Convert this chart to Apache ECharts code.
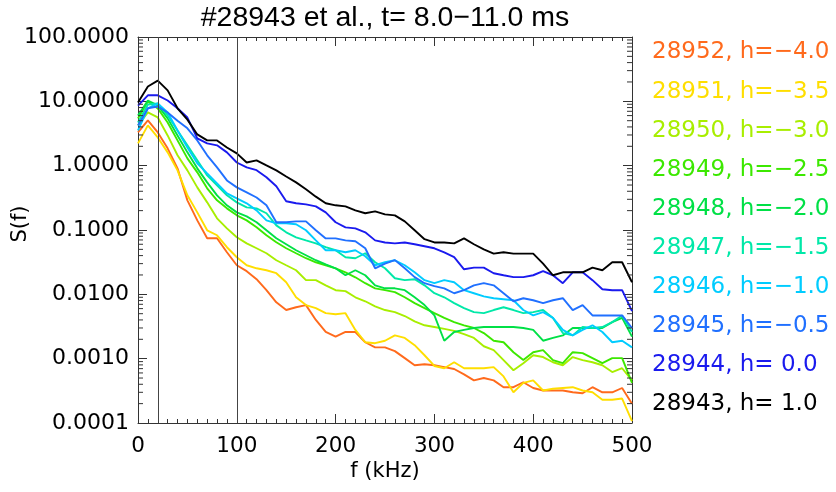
<!DOCTYPE html>
<html><head><meta charset="utf-8">
<script src="https://cdn.jsdelivr.net/npm/echarts@6/dist/echarts.min.js"></script>
<style>html,body{margin:0;padding:0;background:#fff}#c{width:836px;height:492px}</style>
</head><body><div id="c"></div>
<script>
const freqs = [0,10,20,30,40,50,60,70,80,90,100,110,120,130,140,150,160,170,180,190,200,210,220,230,240,250,260,270,280,290,300,310,320,330,340,350,360,370,380,390,400,410,420,430,440,450,460,470,480,490,500];

const s28952 = [3.29,5.05,3.29,1.86,0.908,0.289,0.141,0.0743,0.0743,0.0451,0.0283,0.0229,0.0172,0.0116,0.0075,0.0057,0.0063,0.0068,0.0040,0.0026,0.0022,0.0026,0.0026,0.0018,0.0015,0.0015,0.00131,0.00102,0.00079,0.00082,0.00079,0.00074,0.00069,0.00057,0.00046,0.00050,0.00046,0.00036,0.00036,0.00043,0.00035,0.00032,0.00032,0.00032,0.00030,0.00029,0.00036,0.00030,0.00030,0.00035,0.00020];
const s28951 = [2.22,4.23,2.75,1.61,0.845,0.346,0.188,0.099,0.0828,0.054,0.0377,0.0283,0.0254,0.0237,0.0213,0.0154,0.0090,0.0068,0.0061,0.0051,0.0049,0.0051,0.0028,0.0018,0.00174,0.0019,0.0023,0.0021,0.00162,0.00113,0.00077,0.00071,0.00088,0.00071,0.00071,0.00071,0.00074,0.00053,0.00030,0.00042,0.00046,0.00032,0.00034,0.00035,0.00036,0.00032,0.00030,0.00023,0.00023,0.00024,0.000107];
const s28950 = [4.23,6.73,5.62,2.95,1.45,0.845,0.460,0.269,0.152,0.106,0.077,0.062,0.052,0.0435,0.0339,0.0283,0.0237,0.0166,0.0166,0.0138,0.0116,0.0112,0.0090,0.0078,0.0065,0.0057,0.0053,0.0046,0.0038,0.0033,0.0031,0.0029,0.0027,0.0024,0.0021,0.00156,0.00136,0.00095,0.00066,0.00085,0.00113,0.00106,0.00088,0.00079,0.00106,0.00095,0.00088,0.00079,0.00062,0.00071,0.00046];
const s28949 = [5.43,9.96,7.76,4.70,2.47,1.30,0.787,0.444,0.289,0.217,0.169,0.141,0.110,0.0828,0.0644,0.0520,0.0435,0.0364,0.0315,0.0283,0.0254,0.0220,0.0184,0.0149,0.0124,0.0116,0.0108,0.0090,0.0073,0.0061,0.0051,0.0043,0.0037,0.0033,0.0030,0.0025,0.0019,0.0018,0.00126,0.00095,0.00126,0.00136,0.00095,0.00085,0.00126,0.00122,0.00102,0.00085,0.00102,0.00102,0.00042];
const s28948 = [6.04,10.3,8.64,5.43,2.95,1.61,0.908,0.550,0.346,0.242,0.188,0.163,0.132,0.099,0.0743,0.0600,0.0484,0.0405,0.0339,0.0293,0.0254,0.0198,0.0237,0.0198,0.0138,0.0124,0.0124,0.0116,0.0090,0.0068,0.0047,0.0019,0.0026,0.0028,0.0030,0.0031,0.0031,0.0031,0.0031,0.0030,0.0028,0.0019,0.0021,0.0023,0.0030,0.0030,0.0030,0.0030,0.0037,0.0043,0.0022];
const s28947 = [4.70,8.95,9.27,6.04,3.53,2.07,1.21,0.707,0.494,0.346,0.269,0.225,0.217,0.182,0.118,0.092,0.077,0.069,0.062,0.054,0.0484,0.0377,0.0364,0.0435,0.0315,0.0254,0.0178,0.0166,0.0172,0.0138,0.0104,0.0090,0.0073,0.0061,0.0053,0.0051,0.0057,0.0063,0.0057,0.0051,0.0053,0.0057,0.0043,0.0025,0.0023,0.0031,0.0030,0.0031,0.0037,0.0047,0.0026];
const s28946 = [3.53,7.76,9.27,6.73,3.53,1.92,1.09,0.759,0.531,0.371,0.311,0.260,0.202,0.141,0.127,0.127,0.123,0.099,0.069,0.0484,0.0484,0.0451,0.0484,0.0391,0.0283,0.0315,0.0339,0.0283,0.0220,0.0166,0.0149,0.0166,0.0154,0.0116,0.0104,0.0093,0.0087,0.0084,0.0081,0.0057,0.0047,0.0053,0.0043,0.0028,0.0023,0.0028,0.0033,0.0026,0.0018,0.0019,0.0015];
const s28945 = [4.2,7.8,8.3,6.7,5.0,3.8,2.47,1.45,0.94,0.59,0.46,0.385,0.32,0.242,0.132,0.132,0.136,0.136,0.099,0.074,0.074,0.069,0.067,0.052,0.0254,0.030,0.034,0.0254,0.0185,0.0149,0.0134,0.0124,0.0104,0.0116,0.0138,0.0149,0.0138,0.0104,0.0078,0.0087,0.0081,0.0073,0.0081,0.0087,0.0057,0.0068,0.0047,0.0047,0.0047,0.0047,0.0030];
const s28944 = [8.6,12.4,12.4,10.3,7.8,5.6,2.66,2.22,2.07,1.61,1.12,0.94,0.85,0.66,0.48,0.28,0.26,0.25,0.233,0.188,0.132,0.110,0.106,0.092,0.069,0.064,0.062,0.064,0.060,0.056,0.052,0.045,0.038,0.0245,0.026,0.026,0.0213,0.0198,0.0185,0.0185,0.0198,0.0229,0.0198,0.0149,0.022,0.022,0.0166,0.012,0.0116,0.0116,0.0055];
const s28943 = [9.6,17,21,14.8,7.8,5.2,3.06,2.47,2.47,1.92,1.55,1.12,1.21,1.01,0.845,0.68,0.55,0.43,0.33,0.26,0.242,0.233,0.202,0.182,0.195,0.175,0.169,0.136,0.099,0.072,0.064,0.064,0.062,0.074,0.060,0.050,0.043,0.045,0.043,0.043,0.043,0.030,0.0198,0.022,0.022,0.022,0.026,0.0237,0.0315,0.0315,0.0154];

const seriesNames = ['28952, h=\u22124.0','28951, h=\u22123.5','28950, h=\u22123.0','28949, h=\u22122.5','28948, h=\u22122.0','28947, h=\u22121.5','28946, h=\u22121.0','28945, h=\u22120.5','28944, h= 0.0','28943, h= 1.0'];
const seriesValues = [s28952,s28951,s28950,s28949,s28948,s28947,s28946,s28945,s28944,s28943];
const seriesColors = ['#ff6a1c','#ffde00','#a8ee00','#3ce800','#00e046','#00e8a8','#00ccff','#2070ff','#1a1aee','#000000'];
const markerFreqs = [20, 100];
const minorTickValues = [0.0002,0.0003,0.0004,0.0005,0.0006,0.0007,0.0008,0.0009,
  0.002,0.003,0.004,0.005,0.006,0.007,0.008,0.009,
  0.02,0.03,0.04,0.05,0.06,0.07,0.08,0.09,
  0.2,0.3,0.4,0.5,0.6,0.7,0.8,0.9,
  2,3,4,5,6,7,8,9,
  20,30,40,50,60,70,80,90];
const titleText = '#28943 et al., t= 8.0\u221211.0 ms';
const xName = 'f (kHz)';
const yName = 'S(f)';

const chart = echarts.init(document.getElementById('c'), null, {renderer:'canvas'});
const axisColor = '#333';
const lblFont = 'DejaVu Sans';

const series = seriesValues.map((vals, i) => ({
  name: seriesNames[i],
  type: 'line',
  showSymbol: false,
  symbol: 'none',
  animation: false,
  lineStyle: {color: seriesColors[i], width: 1.9},
  itemStyle: {color: seriesColors[i]},
  data: freqs.map((f, j) => [f, vals[j]]),
  z: 2
}));
series[0].markLine = {
  silent: true, symbol: ['none','none'], label: {show:false},
  lineStyle: {color:'#444', width:1, type:'solid'},
  data: markerFreqs.map(f => ({xAxis: f}))
};
series.push({
  type: 'custom',
  silent: true,
  animation: false,
  xAxisIndex: 0, yAxisIndex: 0,
  encode: {x: 0, y: 1},
  data: minorTickValues.map(v => [0, v]),
  z: 5,
  renderItem: function (params, api) {
    const v = api.value(1);
    const pL = api.coord([0, v]);
    const pR = api.coord([500, v]);
    return {type:'group', children:[
      {type:'line', shape:{x1:pL[0], y1:pL[1], x2:pL[0]+5, y2:pL[1]}, style:{stroke:axisColor, lineWidth:1}},
      {type:'line', shape:{x1:pR[0]-5, y1:pR[1], x2:pR[0], y2:pR[1]}, style:{stroke:axisColor, lineWidth:1}}
    ]};
  }
});

const graphics = [
  {type:'text', x:385, y:18, style:{text:titleText, fontSize:28.5, fontFamily:'Liberation Sans', fill:'#000', align:'center', verticalAlign:'middle'}},
  {type:'text', x:385, y:472, style:{text:xName, fontSize:21, fontFamily:lblFont, fill:'#000', align:'center', verticalAlign:'middle'}},
  {type:'text', x:21, y:224, rotation:Math.PI/2, style:{text:yName, fontSize:21, fontFamily:lblFont, fill:'#000', align:'center', verticalAlign:'middle'}}
];
seriesNames.forEach((n, i) => {
  graphics.push({type:'text', x:652, y:52.5 + i*39.1, style:{text:n, fontSize:23, fontFamily:lblFont, fill:seriesColors[i], align:'left', verticalAlign:'middle'}});
});

chart.setOption({
  animation: false,
  backgroundColor: '#fff',
  grid: {left:138, top:37, width:494, height:386, containLabel:false},
  xAxis: [{
    type:'value', min:0, max:500, interval:100, position:'bottom',
    axisLine:{show:true, onZero:false, lineStyle:{color:axisColor, width:1}},
    axisTick:{show:true, inside:true, length:9, lineStyle:{color:axisColor}},
    minorTick:{show:true, splitNumber:10, length:4, lineStyle:{color:axisColor}},
    splitLine:{show:false},
    axisLabel:{show:true, margin:12, fontSize:21.5, fontFamily:lblFont, color:'#000'}
  },{
    type:'value', min:0, max:500, interval:100, position:'top',
    axisLine:{show:true, onZero:false, lineStyle:{color:axisColor, width:1}},
    axisTick:{show:true, inside:true, length:9, lineStyle:{color:axisColor}},
    minorTick:{show:true, splitNumber:10, length:4, lineStyle:{color:axisColor}},
    splitLine:{show:false},
    axisLabel:{show:false}
  }],
  yAxis: [{
    type:'log', logBase:10, min:0.0001, max:100, position:'left',
    axisLine:{show:true, onZero:false, lineStyle:{color:axisColor, width:1}},
    axisTick:{show:true, inside:true, length:9, lineStyle:{color:axisColor}},
    splitLine:{show:false},
    axisLabel:{show:true, margin:9, fontSize:22, fontFamily:lblFont, color:'#000',
      formatter: v => Number(v).toFixed(4)}
  },{
    type:'log', logBase:10, min:0.0001, max:100, position:'right',
    axisLine:{show:true, onZero:false, lineStyle:{color:axisColor, width:1}},
    axisTick:{show:true, inside:true, length:9, lineStyle:{color:axisColor}},
    splitLine:{show:false},
    axisLabel:{show:false}
  }],
  graphic: graphics,
  series: series
});
</script></body></html>
